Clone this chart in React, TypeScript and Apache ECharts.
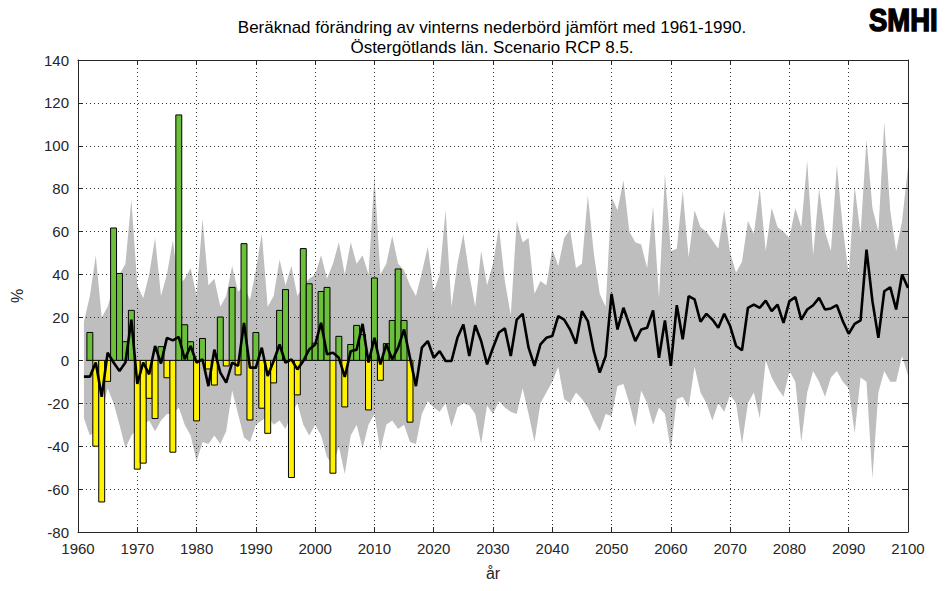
import React, { useEffect, useRef } from "react";
import * as echarts from "echarts";

const TITLE_1 = "Beräknad förändring av vinterns nederbörd jämfört med 1961-1990.";
const TITLE_2 = "Östergötlands län. Scenario RCP 8.5.";
const X_NAME = "år";
const Y_NAME = "%";
const LOGO = "SMHI";

const X_MIN = 1960;
const X_MAX = 2100;
const X_STEP = 10;
const Y_MIN = -80;
const Y_MAX = 140;
const Y_STEP = 20;

// Observed winter precipitation change (bars), one value per year from OBS_START
const OBS_START = 1962;
const observed = [
  13, -40, -66, -9.8, 61.7, 40.5, 8.7, 23.3, -50.7, -47.9,
  -17.7, -27.1, 6.4, -8.1, -42.8, 114.4, 16.6, 8.7, -28.2, 10.2,
  -4, -11.5, 20.2, -2.6, 34, -6.8, 54.4, -27.8, 13, -22.3,
  -34, -10.5, 23.3, 33, -54.6, -16.1, 52.1, 35.7, 8, 32.1,
  34, -52.6, 11.2, -21.7, 7.4, 16.3, 12, -23.1, 38.4, -9.3,
  7.8, 18.6, 42.6, 18.6, -28.8,
];

// Scenario ensemble, one value per year from SCEN_START
const SCEN_START = 1961;
const median = [
  -7.6, -7.6, -1, -17, 3.6, -1, -5, -1, 19, -11,
  -1, -6.5, 6.7, -1.5, 10.5, 9.3, 10.9, 0.5, 6.7, -1,
  0.5, -12, 5, -5.7, -10.4, -1.1, -2.6, 17.5, -3.4, -3.4,
  5.9, -7.3, -0.3, 7.4, -1.1, 0.5, -4.2, -0.3, 5.1, 7.4,
  17.5, 2.8, 3.6, 1.2, -7.75, 4.3, 5, 17, -1, 10.5,
  -1.9, 7.4, 0.5, 5.9, 14.4, 1.2, -12, 5.9, 9, 1.2,
  4.3, -0.3, -0.3, 10.5, 16.7, 2, 16.4, 9, -1.9, 5.9,
  13, 14.9, 2, 19, 21.7, 5.9, -2.6, 7.4, 10.5, 11.3,
  20.6, 19, 14.4, 7.8, 22.9, 18.3, 4.3, -5.7, 2, 31,
  14.4, 24.5, 16.7, 9, 14.4, 15.2, 23.3, 1.2, 18.6, -2.6,
  25.7, 9.8, 29.9, 28.4, 18, 21.7, 19, 15.2, 21.7, 16,
  6.7, 4.7, 24.5, 26, 24.5, 27.9, 22.9, 26, 17.5, 27.6,
  29.5, 19, 23.7, 25.7, 29.1, 23.7, 24.2, 25.7, 18.3, 12.4,
  17, 18.6, 51.6, 27.6, 10.5, 32.2, 34.1, 23.7, 40, 33.8,
];
const upper = [
  18, 30, 49, 20, 25, 35, 40, 45, 75, 35,
  29, 40, 57, 30, 40, 56, 35, 38, 43, 30,
  66, 35, 38, 25, 30, 44, 32, 35, 28, 42,
  59, 25, 30, 47, 35, 44, 30, 35, 38, 40,
  49, 38, 45, 55, 40, 55, 45, 49, 40, 86,
  40, 45, 58, 45, 42, 35, 30, 41, 53, 32,
  40, 70, 25, 45, 59, 40, 25, 51, 35, 45,
  62, 37, 21, 65, 55, 57, 31, 37, 35, 52,
  44, 57, 61, 43, 45, 77, 50, 31, 25, 76,
  70, 84, 60, 55, 54, 43, 72, 29, 87, 51,
  52, 79, 48, 70, 62, 60, 56, 52, 70, 50,
  41, 46, 65, 59, 80, 51, 71, 62, 60, 57,
  71, 62, 93, 49, 80, 60, 51, 91, 62, 40,
  81, 59, 103, 71, 60, 111, 70, 51, 65, 90,
];
const lower = [
  -27, -35, -33, -25, -13, -20, -30, -41, -35, -32,
  -30, -28, -33, -28, -25, -25, -22, -30, -35, -47,
  -38, -39, -35, -39, -33, -14, -25, -36, -38, -30,
  -28, -26, -30, -28, -32, -25, -20, -30, -35, -30,
  -35, -45, -49, -40, -53, -35, -30, -41, -30, -25,
  -42, -30, -28, -32, -30, -38, -39, -25, -19, -22,
  -24, -20, -31, -22, -20, -21, -25, -39, -21, -25,
  -19, -22, -24, -25, -13, -25, -38, -20, -15, -10,
  -3, -18, -20, -15, -18, -22, -28, -33, -25, -26,
  -12, -11, -20, -31, -14, -20, -30, -22, -25, -42,
  -18, -17, -22, -3, -15, -20, -28, -20, -24, -16,
  -20, -39, -20, -15, -27, 0, -8, -13, -17, -5,
  -10, -38, -15, -5, -10, -17, -8, -5, -10, -13,
  -34, -8, -10, -55, -15, -5, -10, -10, 2, -7,
];

const GREEN = "#6cbf3a";
const YELLOW = "#fff200";
const BAND = "#bebebe";
const TXT = "#262626";
const FONT = "'Liberation Sans', Arial, Helvetica, sans-serif";

export default function App() {
  const ref = useRef<HTMLDivElement>(null);

  useEffect(() => {
    if (!ref.current) return;
    const chart = echarts.init(ref.current, null, { renderer: "svg" });

    const obsData = observed.map((v, i) => [OBS_START + i, v]);
    const medData = median.map((v, i) => [SCEN_START + i, v]);
    const bandData = upper.map((u, i) => [SCEN_START + i, lower[i], u]);

    const splitLine = { show: true, lineStyle: { color: "#333", type: [1, 3], width: 1 } };
    const tick = { show: true, inside: true, length: 5, lineStyle: { color: TXT } };
    const axLine = { show: true, onZero: false, lineStyle: { color: TXT, width: 1 } };
    const label = { color: TXT, fontSize: 15, fontFamily: FONT, margin: 9, formatter: (v: number) => String(v) };

    chart.setOption({
      animation: false,
      grid: { left: 78, right: 37, top: 60, bottom: 59, show: false, outerBoundsMode: "none" },
      xAxis: [
        {
          type: "value", min: X_MIN, max: X_MAX, interval: X_STEP, position: "bottom", z: 2,
          axisLine: axLine, axisTick: tick, splitLine, axisLabel: label,
          name: X_NAME, nameLocation: "middle", nameGap: 33,
          nameTextStyle: { color: TXT, fontSize: 16, fontFamily: FONT },
        },
        {
          type: "value", min: X_MIN, max: X_MAX, interval: X_STEP, position: "top", z: 2,
          axisLine: axLine, axisTick: tick, splitLine: { show: false }, axisLabel: { show: false },
        },
      ],
      yAxis: [
        {
          type: "value", min: Y_MIN, max: Y_MAX, interval: Y_STEP, position: "left", z: 2,
          axisLine: axLine, axisTick: tick, splitLine, axisLabel: label,
          name: Y_NAME, nameLocation: "middle", nameGap: 53, nameRotate: 90,
          nameTextStyle: { color: TXT, fontSize: 16, fontFamily: FONT },
        },
        {
          type: "value", min: Y_MIN, max: Y_MAX, interval: Y_STEP, position: "right", z: 2,
          axisLine: axLine, axisTick: tick, splitLine: { show: false }, axisLabel: { show: false },
        },
      ],
      graphic: [
        {
          type: "text", x: 492, y: 27,
          style: { text: TITLE_1, fill: "#000", fontSize: 17, fontFamily: FONT, align: "center", verticalAlign: "middle" },
        },
        {
          type: "text", x: 492, y: 47,
          style: { text: TITLE_2, fill: "#000", fontSize: 17, fontFamily: FONT, align: "center", verticalAlign: "middle" },
        },
        {
          type: "text", x: 869, y: 4, scaleX: 0.86,
          style: { text: LOGO, fill: "#000", stroke: "#000", lineWidth: 1.5, fontSize: 32, fontWeight: "bold", fontFamily: FONT, align: "left", verticalAlign: "top" },
        },
      ],
      series: [
        {
          type: "custom", name: "band", z: 1, silent: true,
          data: bandData,
          renderItem: (params: any, api: any) => {
            if (params.dataIndex !== 0) return null;
            const pts: number[][] = [];
            for (let i = 0; i < bandData.length; i++) pts.push(api.coord([bandData[i][0], bandData[i][2]]));
            for (let i = bandData.length - 1; i >= 0; i--) pts.push(api.coord([bandData[i][0], bandData[i][1]]));
            return { type: "polygon", shape: { points: pts }, style: { fill: BAND, stroke: "none" } };
          },
        },
        {
          type: "custom", name: "observed", z: 3,
          data: obsData,
          renderItem: (params: any, api: any) => {
            const yr = api.value(0);
            const v = api.value(1);
            const a = api.coord([yr - 0.5, v]);
            const b = api.coord([yr + 0.5, 0]);
            return {
              type: "rect",
              shape: { x: a[0], y: Math.min(a[1], b[1]), width: b[0] - a[0], height: Math.abs(b[1] - a[1]) },
              style: { fill: v >= 0 ? GREEN : YELLOW, stroke: "#000", lineWidth: 1 },
            };
          },
        },
        {
          type: "line", name: "median", z: 4, data: medData, symbol: "none",
          lineStyle: { color: "#000", width: 2.6 },
        },
      ],
    });

    return () => chart.dispose();
  }, []);

  return <div ref={ref} style={{ width: 945, height: 591, position: "absolute", left: 0, top: 0 }} />;
}
